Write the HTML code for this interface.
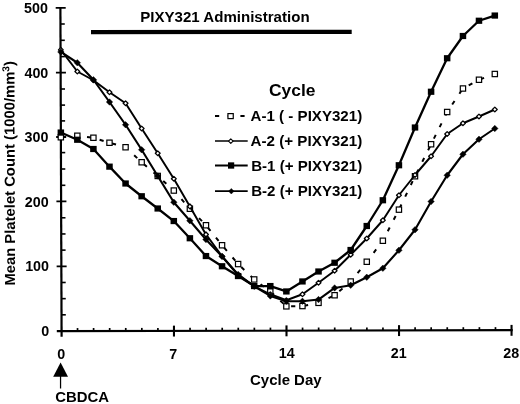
<!DOCTYPE html>
<html><head><meta charset="utf-8"><title>chart</title>
<style>
html,body{margin:0;padding:0;background:#fff;}
body{width:520px;height:404px;overflow:hidden;}
svg{display:block;filter:grayscale(1) blur(0.3px);}
text{font-family:"Liberation Sans",sans-serif;font-weight:bold;fill:#000;}
</style></head><body>
<svg width="520" height="404" viewBox="0 0 520 404">
<rect width="520" height="404" fill="#fff"/>

<g stroke="#000" fill="none">
<line x1="60.40" y1="7" x2="61.60" y2="336.7" stroke-width="2.2"/>
<line x1="56.8" y1="331.20" x2="512.7" y2="330.20" stroke-width="2.2"/>
<line x1="61.52" y1="314.82" x2="65.82" y2="314.82" stroke-width="1.6"/>
<line x1="61.46" y1="298.65" x2="65.76" y2="298.65" stroke-width="1.6"/>
<line x1="61.40" y1="282.48" x2="65.70" y2="282.48" stroke-width="1.6"/>
<line x1="56.64" y1="266.31" x2="66.64" y2="266.29" stroke-width="1.8"/>
<line x1="61.28" y1="250.12" x2="65.58" y2="250.12" stroke-width="1.6"/>
<line x1="61.23" y1="233.95" x2="65.53" y2="233.95" stroke-width="1.6"/>
<line x1="61.17" y1="217.77" x2="65.47" y2="217.77" stroke-width="1.6"/>
<line x1="56.41" y1="201.41" x2="66.41" y2="201.39" stroke-width="1.8"/>
<line x1="61.05" y1="185.30" x2="65.35" y2="185.30" stroke-width="1.6"/>
<line x1="60.99" y1="169.00" x2="65.29" y2="169.00" stroke-width="1.6"/>
<line x1="60.93" y1="152.60" x2="65.23" y2="152.60" stroke-width="1.6"/>
<line x1="56.17" y1="137.01" x2="66.17" y2="136.99" stroke-width="1.8"/>
<line x1="60.81" y1="120.90" x2="65.11" y2="120.90" stroke-width="1.6"/>
<line x1="60.76" y1="105.10" x2="65.06" y2="105.10" stroke-width="1.6"/>
<line x1="60.70" y1="89.00" x2="65.00" y2="89.00" stroke-width="1.6"/>
<line x1="55.94" y1="72.71" x2="65.94" y2="72.69" stroke-width="1.8"/>
<line x1="60.58" y1="56.60" x2="64.88" y2="56.60" stroke-width="1.6"/>
<line x1="60.52" y1="40.30" x2="64.82" y2="40.30" stroke-width="1.6"/>
<line x1="60.46" y1="24.00" x2="64.76" y2="24.00" stroke-width="1.6"/>
<line x1="55.70" y1="7.96" x2="65.70" y2="7.94" stroke-width="1.8"/>
<line x1="77.53" y1="328.05" x2="77.53" y2="331.15" stroke-width="1.7"/>
<line x1="93.60" y1="328.02" x2="93.60" y2="331.12" stroke-width="1.7"/>
<line x1="109.67" y1="327.98" x2="109.67" y2="331.08" stroke-width="1.7"/>
<line x1="125.75" y1="327.95" x2="125.75" y2="331.05" stroke-width="1.7"/>
<line x1="141.82" y1="327.91" x2="141.82" y2="331.01" stroke-width="1.7"/>
<line x1="157.90" y1="327.88" x2="157.90" y2="330.98" stroke-width="1.7"/>
<line x1="173.97" y1="325.64" x2="173.97" y2="336.54" stroke-width="2.1"/>
<line x1="190.05" y1="327.81" x2="190.05" y2="330.91" stroke-width="1.7"/>
<line x1="206.12" y1="327.77" x2="206.12" y2="330.87" stroke-width="1.7"/>
<line x1="222.20" y1="327.74" x2="222.20" y2="330.84" stroke-width="1.7"/>
<line x1="238.27" y1="327.70" x2="238.27" y2="330.80" stroke-width="1.7"/>
<line x1="254.35" y1="327.67" x2="254.35" y2="330.77" stroke-width="1.7"/>
<line x1="270.43" y1="327.63" x2="270.43" y2="330.73" stroke-width="1.7"/>
<line x1="286.50" y1="325.40" x2="286.50" y2="336.30" stroke-width="2.1"/>
<line x1="302.57" y1="327.56" x2="302.57" y2="330.66" stroke-width="1.7"/>
<line x1="318.65" y1="327.52" x2="318.65" y2="330.62" stroke-width="1.7"/>
<line x1="334.72" y1="327.49" x2="334.72" y2="330.59" stroke-width="1.7"/>
<line x1="350.80" y1="327.45" x2="350.80" y2="330.55" stroke-width="1.7"/>
<line x1="366.88" y1="327.42" x2="366.88" y2="330.52" stroke-width="1.7"/>
<line x1="382.95" y1="327.38" x2="382.95" y2="330.48" stroke-width="1.7"/>
<line x1="399.02" y1="325.15" x2="399.02" y2="336.05" stroke-width="2.1"/>
<line x1="415.10" y1="327.31" x2="415.10" y2="330.41" stroke-width="1.7"/>
<line x1="431.17" y1="327.28" x2="431.17" y2="330.38" stroke-width="1.7"/>
<line x1="447.25" y1="327.24" x2="447.25" y2="330.34" stroke-width="1.7"/>
<line x1="463.32" y1="327.21" x2="463.32" y2="330.31" stroke-width="1.7"/>
<line x1="479.40" y1="327.17" x2="479.40" y2="330.27" stroke-width="1.7"/>
<line x1="495.47" y1="327.14" x2="495.47" y2="330.24" stroke-width="1.7"/>
<line x1="511.55" y1="324.90" x2="511.55" y2="335.80" stroke-width="2.1"/>
</g>
<text x="47.90" y="12.90" font-size="14.3" text-anchor="end">500</text>
<text x="48.30" y="77.90" font-size="14.3" text-anchor="end">400</text>
<text x="48.40" y="141.80" font-size="14.3" text-anchor="end">300</text>
<text x="48.70" y="206.60" font-size="14.3" text-anchor="end">200</text>
<text x="49.00" y="270.80" font-size="14.3" text-anchor="end">100</text>
<text x="49.30" y="336.30" font-size="14.3" text-anchor="end">0</text>
<text x="61.30" y="358.80" font-size="14.3" text-anchor="middle">0</text>
<text x="173.30" y="358.60" font-size="14.3" text-anchor="middle">7</text>
<text x="286.70" y="358.30" font-size="14.3" text-anchor="middle">14</text>
<text x="398.80" y="357.90" font-size="14.3" text-anchor="middle">21</text>
<text x="511.30" y="357.70" font-size="14.3" text-anchor="middle">28</text>
<text x="250.0" y="385.1" font-size="14.3" textLength="71.6" lengthAdjust="spacingAndGlyphs">Cycle Day</text>
<text transform="translate(15.1,285.6) rotate(-90.2)" font-size="14.5" textLength="224.6" lengthAdjust="spacingAndGlyphs">Mean Platelet Count (1000/mm<tspan font-size="10" dy="-5.2">3</tspan><tspan dy="5.2">)</tspan></text>
<text x="140.3" y="21.7" font-size="14" textLength="169.3" lengthAdjust="spacingAndGlyphs">PIXY321 Administration</text>
<path d="M91,30.0 L351.7,29.7 L351.7,33.9 L91,34.2 Z" fill="#000"/>
<path d="M60.6,362.4 L68.0,376.8 L53.2,376.8 Z" fill="#000"/>
<line x1="60.55" y1="376" x2="60.55" y2="388.5" stroke="#000" stroke-width="1.25"/>
<text x="55.2" y="401.6" font-size="14" textLength="53.8" lengthAdjust="spacingAndGlyphs">CBDCA</text>
<text x="269.0" y="95.6" font-size="16.9" textLength="46.4" lengthAdjust="spacingAndGlyphs">Cycle</text>
<text x="250.6" y="121.30" font-size="14" textLength="111.6" lengthAdjust="spacingAndGlyphs">A-1 ( - PIXY321)</text>
<text x="250.6" y="146.40" font-size="14" textLength="111.6" lengthAdjust="spacingAndGlyphs">A-2 (+ PIXY321)</text>
<text x="251.2" y="170.60" font-size="14" textLength="111.0" lengthAdjust="spacingAndGlyphs">B-1 (+ PIXY321)</text>
<text x="251.2" y="196.40" font-size="14" textLength="111.0" lengthAdjust="spacingAndGlyphs">B-2 (+ PIXY321)</text>
<line x1="215" y1="116.0" x2="247.7" y2="116.0" stroke="#000" stroke-width="2.1" stroke-dasharray="4.2 8.5"/>
<rect x="227.95" y="113.60" width="5.3" height="5.0" fill="#fff" stroke="#000" stroke-width="1.2"/>
<line x1="215" y1="141.1" x2="247.7" y2="141.1" stroke="#000" stroke-width="1.5"/>
<path d="M228.50,141.10 L230.80,138.80 L233.10,141.10 L230.80,143.40 Z" fill="#fff" stroke="#000" stroke-width="1.1" stroke-linejoin="round"/>
<line x1="215" y1="165.5" x2="247.7" y2="165.5" stroke="#000" stroke-width="2.1"/>
<rect x="228.00" y="162.35" width="6.2" height="6.3" fill="#000"/>
<line x1="215" y1="191.2" x2="247.7" y2="191.2" stroke="#000" stroke-width="1.8"/>
<path d="M228.50,191.20 L231.30,188.40 L234.10,191.20 L231.30,194.00 Z" fill="#000" stroke="#000" stroke-width="0.4" stroke-linejoin="round"/>
<polyline points="60.85,137.25 77.33,135.75 93.41,137.75 109.49,142.75 125.57,147.25 141.65,162.25 157.73,175.95 173.81,190.55 189.89,208.75 205.97,225.25 222.05,245.25 238.13,264.05 254.21,279.45 270.29,291.45 286.37,306.35 302.45,306.05 318.53,302.85 334.61,295.25 350.69,281.50 366.77,261.75 382.85,240.75 398.93,209.65 415.01,176.25 431.09,144.25 447.17,112.00 462.95,88.50 478.98,79.75 494.81,74.00" fill="none" stroke="#000" stroke-width="2" stroke-dasharray="4.2 8.73" stroke-dashoffset="-0.45"/>
<rect x="58.20" y="134.60" width="5.3" height="5.3" fill="#fff" stroke="#000" stroke-width="1.2"/>
<rect x="74.68" y="133.10" width="5.3" height="5.3" fill="#fff" stroke="#000" stroke-width="1.2"/>
<rect x="90.76" y="135.10" width="5.3" height="5.3" fill="#fff" stroke="#000" stroke-width="1.2"/>
<rect x="106.84" y="140.10" width="5.3" height="5.3" fill="#fff" stroke="#000" stroke-width="1.2"/>
<rect x="122.92" y="144.60" width="5.3" height="5.3" fill="#fff" stroke="#000" stroke-width="1.2"/>
<rect x="139.00" y="159.60" width="5.3" height="5.3" fill="#fff" stroke="#000" stroke-width="1.2"/>
<rect x="155.08" y="173.30" width="5.3" height="5.3" fill="#fff" stroke="#000" stroke-width="1.2"/>
<rect x="171.16" y="187.90" width="5.3" height="5.3" fill="#fff" stroke="#000" stroke-width="1.2"/>
<rect x="187.24" y="206.10" width="5.3" height="5.3" fill="#fff" stroke="#000" stroke-width="1.2"/>
<rect x="203.32" y="222.60" width="5.3" height="5.3" fill="#fff" stroke="#000" stroke-width="1.2"/>
<rect x="219.40" y="242.60" width="5.3" height="5.3" fill="#fff" stroke="#000" stroke-width="1.2"/>
<rect x="235.48" y="261.40" width="5.3" height="5.3" fill="#fff" stroke="#000" stroke-width="1.2"/>
<rect x="251.56" y="276.80" width="5.3" height="5.3" fill="#fff" stroke="#000" stroke-width="1.2"/>
<rect x="267.64" y="288.80" width="5.3" height="5.3" fill="#fff" stroke="#000" stroke-width="1.2"/>
<rect x="283.72" y="303.70" width="5.3" height="5.3" fill="#fff" stroke="#000" stroke-width="1.2"/>
<rect x="299.80" y="303.40" width="5.3" height="5.3" fill="#fff" stroke="#000" stroke-width="1.2"/>
<rect x="315.88" y="300.20" width="5.3" height="5.3" fill="#fff" stroke="#000" stroke-width="1.2"/>
<rect x="331.96" y="292.60" width="5.3" height="5.3" fill="#fff" stroke="#000" stroke-width="1.2"/>
<rect x="348.04" y="278.85" width="5.3" height="5.3" fill="#fff" stroke="#000" stroke-width="1.2"/>
<rect x="364.12" y="259.10" width="5.3" height="5.3" fill="#fff" stroke="#000" stroke-width="1.2"/>
<rect x="380.20" y="238.10" width="5.3" height="5.3" fill="#fff" stroke="#000" stroke-width="1.2"/>
<rect x="396.28" y="207.00" width="5.3" height="5.3" fill="#fff" stroke="#000" stroke-width="1.2"/>
<rect x="412.36" y="173.60" width="5.3" height="5.3" fill="#fff" stroke="#000" stroke-width="1.2"/>
<rect x="428.44" y="141.60" width="5.3" height="5.3" fill="#fff" stroke="#000" stroke-width="1.2"/>
<rect x="444.52" y="109.35" width="5.3" height="5.3" fill="#fff" stroke="#000" stroke-width="1.2"/>
<rect x="460.30" y="85.85" width="5.3" height="5.3" fill="#fff" stroke="#000" stroke-width="1.2"/>
<rect x="476.33" y="77.10" width="5.3" height="5.3" fill="#fff" stroke="#000" stroke-width="1.2"/>
<rect x="492.16" y="71.35" width="5.3" height="5.3" fill="#fff" stroke="#000" stroke-width="1.2"/>
<polyline points="60.85,49.85 77.33,71.50 93.41,80.25 109.49,92.25 125.57,103.25 141.65,128.50 157.73,153.25 173.81,178.75 189.89,206.45 205.97,234.45 222.05,256.25 238.13,275.25 254.21,286.25 270.29,294.25 286.37,300.25 302.45,294.25 318.53,282.75 334.61,270.75 350.69,254.75 366.77,238.50 382.85,220.25 398.93,195.25 415.01,175.00 431.09,156.25 447.17,134.00 462.95,123.25 478.98,116.50 494.81,109.50" fill="none" stroke="#000" stroke-width="1.95" stroke-linejoin="round"/>
<path d="M58.45,49.85 L60.85,47.45 L63.25,49.85 L60.85,52.25 Z" fill="#fff" stroke="#000" stroke-width="1.3" stroke-linejoin="round"/>
<path d="M74.93,71.50 L77.33,69.10 L79.73,71.50 L77.33,73.90 Z" fill="#fff" stroke="#000" stroke-width="1.3" stroke-linejoin="round"/>
<path d="M91.01,80.25 L93.41,77.85 L95.81,80.25 L93.41,82.65 Z" fill="#fff" stroke="#000" stroke-width="1.3" stroke-linejoin="round"/>
<path d="M107.09,92.25 L109.49,89.85 L111.89,92.25 L109.49,94.65 Z" fill="#fff" stroke="#000" stroke-width="1.3" stroke-linejoin="round"/>
<path d="M123.17,103.25 L125.57,100.85 L127.97,103.25 L125.57,105.65 Z" fill="#fff" stroke="#000" stroke-width="1.3" stroke-linejoin="round"/>
<path d="M139.25,128.50 L141.65,126.10 L144.05,128.50 L141.65,130.90 Z" fill="#fff" stroke="#000" stroke-width="1.3" stroke-linejoin="round"/>
<path d="M155.33,153.25 L157.73,150.85 L160.13,153.25 L157.73,155.65 Z" fill="#fff" stroke="#000" stroke-width="1.3" stroke-linejoin="round"/>
<path d="M171.41,178.75 L173.81,176.35 L176.21,178.75 L173.81,181.15 Z" fill="#fff" stroke="#000" stroke-width="1.3" stroke-linejoin="round"/>
<path d="M187.49,206.45 L189.89,204.05 L192.29,206.45 L189.89,208.85 Z" fill="#fff" stroke="#000" stroke-width="1.3" stroke-linejoin="round"/>
<path d="M203.57,234.45 L205.97,232.05 L208.37,234.45 L205.97,236.85 Z" fill="#fff" stroke="#000" stroke-width="1.3" stroke-linejoin="round"/>
<path d="M219.65,256.25 L222.05,253.85 L224.45,256.25 L222.05,258.65 Z" fill="#fff" stroke="#000" stroke-width="1.3" stroke-linejoin="round"/>
<path d="M235.73,275.25 L238.13,272.85 L240.53,275.25 L238.13,277.65 Z" fill="#fff" stroke="#000" stroke-width="1.3" stroke-linejoin="round"/>
<path d="M251.81,286.25 L254.21,283.85 L256.61,286.25 L254.21,288.65 Z" fill="#fff" stroke="#000" stroke-width="1.3" stroke-linejoin="round"/>
<path d="M267.89,294.25 L270.29,291.85 L272.69,294.25 L270.29,296.65 Z" fill="#fff" stroke="#000" stroke-width="1.3" stroke-linejoin="round"/>
<path d="M283.97,300.25 L286.37,297.85 L288.77,300.25 L286.37,302.65 Z" fill="#fff" stroke="#000" stroke-width="1.3" stroke-linejoin="round"/>
<path d="M300.05,294.25 L302.45,291.85 L304.85,294.25 L302.45,296.65 Z" fill="#fff" stroke="#000" stroke-width="1.3" stroke-linejoin="round"/>
<path d="M316.13,282.75 L318.53,280.35 L320.93,282.75 L318.53,285.15 Z" fill="#fff" stroke="#000" stroke-width="1.3" stroke-linejoin="round"/>
<path d="M332.21,270.75 L334.61,268.35 L337.01,270.75 L334.61,273.15 Z" fill="#fff" stroke="#000" stroke-width="1.3" stroke-linejoin="round"/>
<path d="M348.29,254.75 L350.69,252.35 L353.09,254.75 L350.69,257.15 Z" fill="#fff" stroke="#000" stroke-width="1.3" stroke-linejoin="round"/>
<path d="M364.37,238.50 L366.77,236.10 L369.17,238.50 L366.77,240.90 Z" fill="#fff" stroke="#000" stroke-width="1.3" stroke-linejoin="round"/>
<path d="M380.45,220.25 L382.85,217.85 L385.25,220.25 L382.85,222.65 Z" fill="#fff" stroke="#000" stroke-width="1.3" stroke-linejoin="round"/>
<path d="M396.53,195.25 L398.93,192.85 L401.33,195.25 L398.93,197.65 Z" fill="#fff" stroke="#000" stroke-width="1.3" stroke-linejoin="round"/>
<path d="M412.61,175.00 L415.01,172.60 L417.41,175.00 L415.01,177.40 Z" fill="#fff" stroke="#000" stroke-width="1.3" stroke-linejoin="round"/>
<path d="M428.69,156.25 L431.09,153.85 L433.49,156.25 L431.09,158.65 Z" fill="#fff" stroke="#000" stroke-width="1.3" stroke-linejoin="round"/>
<path d="M444.77,134.00 L447.17,131.60 L449.57,134.00 L447.17,136.40 Z" fill="#fff" stroke="#000" stroke-width="1.3" stroke-linejoin="round"/>
<path d="M460.55,123.25 L462.95,120.85 L465.35,123.25 L462.95,125.65 Z" fill="#fff" stroke="#000" stroke-width="1.3" stroke-linejoin="round"/>
<path d="M476.58,116.50 L478.98,114.10 L481.38,116.50 L478.98,118.90 Z" fill="#fff" stroke="#000" stroke-width="1.3" stroke-linejoin="round"/>
<path d="M492.41,109.50 L494.81,107.10 L497.21,109.50 L494.81,111.90 Z" fill="#fff" stroke="#000" stroke-width="1.3" stroke-linejoin="round"/>
<polyline points="60.85,132.55 77.33,139.75 93.41,149.00 109.49,166.65 125.57,183.50 141.65,196.25 157.73,208.50 173.81,221.05 189.89,238.25 205.97,256.05 222.05,266.25 238.13,276.05 254.21,286.05 270.29,286.05 286.37,291.45 302.45,281.45 318.53,271.50 334.61,262.75 350.69,250.00 366.77,226.00 382.85,200.25 398.93,165.25 415.01,127.50 431.09,91.75 447.17,58.25 462.95,36.00 478.98,20.75 494.81,15.55" fill="none" stroke="#000" stroke-width="2.3" stroke-linejoin="round"/>
<rect x="57.60" y="129.45" width="6.5" height="6.2" fill="#000"/>
<rect x="74.08" y="136.65" width="6.5" height="6.2" fill="#000"/>
<rect x="90.16" y="145.90" width="6.5" height="6.2" fill="#000"/>
<rect x="106.24" y="163.55" width="6.5" height="6.2" fill="#000"/>
<rect x="122.32" y="180.40" width="6.5" height="6.2" fill="#000"/>
<rect x="138.40" y="193.15" width="6.5" height="6.2" fill="#000"/>
<rect x="154.48" y="205.40" width="6.5" height="6.2" fill="#000"/>
<rect x="170.56" y="217.95" width="6.5" height="6.2" fill="#000"/>
<rect x="186.64" y="235.15" width="6.5" height="6.2" fill="#000"/>
<rect x="202.72" y="252.95" width="6.5" height="6.2" fill="#000"/>
<rect x="218.80" y="263.15" width="6.5" height="6.2" fill="#000"/>
<rect x="234.88" y="272.95" width="6.5" height="6.2" fill="#000"/>
<rect x="250.96" y="282.95" width="6.5" height="6.2" fill="#000"/>
<rect x="267.04" y="282.95" width="6.5" height="6.2" fill="#000"/>
<rect x="283.12" y="288.35" width="6.5" height="6.2" fill="#000"/>
<rect x="299.20" y="278.35" width="6.5" height="6.2" fill="#000"/>
<rect x="315.28" y="268.40" width="6.5" height="6.2" fill="#000"/>
<rect x="331.36" y="259.65" width="6.5" height="6.2" fill="#000"/>
<rect x="347.44" y="246.90" width="6.5" height="6.2" fill="#000"/>
<rect x="363.52" y="222.90" width="6.5" height="6.2" fill="#000"/>
<rect x="379.60" y="197.15" width="6.5" height="6.2" fill="#000"/>
<rect x="395.68" y="162.15" width="6.5" height="6.2" fill="#000"/>
<rect x="411.76" y="124.40" width="6.5" height="6.2" fill="#000"/>
<rect x="427.84" y="88.65" width="6.5" height="6.2" fill="#000"/>
<rect x="443.92" y="55.15" width="6.5" height="6.2" fill="#000"/>
<rect x="459.70" y="32.90" width="6.5" height="6.2" fill="#000"/>
<rect x="475.73" y="17.65" width="6.5" height="6.2" fill="#000"/>
<rect x="491.56" y="12.45" width="6.5" height="6.2" fill="#000"/>
<polyline points="60.85,51.95 77.33,62.75 93.41,79.75 109.49,102.00 125.57,124.75 141.65,149.75 157.73,175.95 173.81,202.25 189.89,220.75 205.97,239.55 222.05,256.45 238.13,274.45 254.21,286.25 270.29,295.95 286.37,301.25 302.45,301.25 318.53,299.55 334.61,287.95 350.69,285.25 366.77,277.25 382.85,268.25 398.93,250.25 415.01,229.75 431.09,201.50 447.17,175.25 462.95,154.25 478.98,139.25 494.81,128.50" fill="none" stroke="#000" stroke-width="2.1" stroke-linejoin="round"/>
<path d="M57.60,51.95 L60.85,48.70 L64.10,51.95 L60.85,55.20 Z" fill="#000" stroke="#000" stroke-width="0.4" stroke-linejoin="round"/>
<path d="M74.08,62.75 L77.33,59.50 L80.58,62.75 L77.33,66.00 Z" fill="#000" stroke="#000" stroke-width="0.4" stroke-linejoin="round"/>
<path d="M90.16,79.75 L93.41,76.50 L96.66,79.75 L93.41,83.00 Z" fill="#000" stroke="#000" stroke-width="0.4" stroke-linejoin="round"/>
<path d="M106.24,102.00 L109.49,98.75 L112.74,102.00 L109.49,105.25 Z" fill="#000" stroke="#000" stroke-width="0.4" stroke-linejoin="round"/>
<path d="M122.32,124.75 L125.57,121.50 L128.82,124.75 L125.57,128.00 Z" fill="#000" stroke="#000" stroke-width="0.4" stroke-linejoin="round"/>
<path d="M138.40,149.75 L141.65,146.50 L144.90,149.75 L141.65,153.00 Z" fill="#000" stroke="#000" stroke-width="0.4" stroke-linejoin="round"/>
<path d="M154.48,175.95 L157.73,172.70 L160.98,175.95 L157.73,179.20 Z" fill="#000" stroke="#000" stroke-width="0.4" stroke-linejoin="round"/>
<path d="M170.56,202.25 L173.81,199.00 L177.06,202.25 L173.81,205.50 Z" fill="#000" stroke="#000" stroke-width="0.4" stroke-linejoin="round"/>
<path d="M186.64,220.75 L189.89,217.50 L193.14,220.75 L189.89,224.00 Z" fill="#000" stroke="#000" stroke-width="0.4" stroke-linejoin="round"/>
<path d="M202.72,239.55 L205.97,236.30 L209.22,239.55 L205.97,242.80 Z" fill="#000" stroke="#000" stroke-width="0.4" stroke-linejoin="round"/>
<path d="M218.80,256.45 L222.05,253.20 L225.30,256.45 L222.05,259.70 Z" fill="#000" stroke="#000" stroke-width="0.4" stroke-linejoin="round"/>
<path d="M234.88,274.45 L238.13,271.20 L241.38,274.45 L238.13,277.70 Z" fill="#000" stroke="#000" stroke-width="0.4" stroke-linejoin="round"/>
<path d="M250.96,286.25 L254.21,283.00 L257.46,286.25 L254.21,289.50 Z" fill="#000" stroke="#000" stroke-width="0.4" stroke-linejoin="round"/>
<path d="M267.04,295.95 L270.29,292.70 L273.54,295.95 L270.29,299.20 Z" fill="#000" stroke="#000" stroke-width="0.4" stroke-linejoin="round"/>
<path d="M283.12,301.25 L286.37,298.00 L289.62,301.25 L286.37,304.50 Z" fill="#000" stroke="#000" stroke-width="0.4" stroke-linejoin="round"/>
<path d="M299.20,301.25 L302.45,298.00 L305.70,301.25 L302.45,304.50 Z" fill="#000" stroke="#000" stroke-width="0.4" stroke-linejoin="round"/>
<path d="M315.28,299.55 L318.53,296.30 L321.78,299.55 L318.53,302.80 Z" fill="#000" stroke="#000" stroke-width="0.4" stroke-linejoin="round"/>
<path d="M331.36,287.95 L334.61,284.70 L337.86,287.95 L334.61,291.20 Z" fill="#000" stroke="#000" stroke-width="0.4" stroke-linejoin="round"/>
<path d="M347.44,285.25 L350.69,282.00 L353.94,285.25 L350.69,288.50 Z" fill="#000" stroke="#000" stroke-width="0.4" stroke-linejoin="round"/>
<path d="M363.52,277.25 L366.77,274.00 L370.02,277.25 L366.77,280.50 Z" fill="#000" stroke="#000" stroke-width="0.4" stroke-linejoin="round"/>
<path d="M379.60,268.25 L382.85,265.00 L386.10,268.25 L382.85,271.50 Z" fill="#000" stroke="#000" stroke-width="0.4" stroke-linejoin="round"/>
<path d="M395.68,250.25 L398.93,247.00 L402.18,250.25 L398.93,253.50 Z" fill="#000" stroke="#000" stroke-width="0.4" stroke-linejoin="round"/>
<path d="M411.76,229.75 L415.01,226.50 L418.26,229.75 L415.01,233.00 Z" fill="#000" stroke="#000" stroke-width="0.4" stroke-linejoin="round"/>
<path d="M427.84,201.50 L431.09,198.25 L434.34,201.50 L431.09,204.75 Z" fill="#000" stroke="#000" stroke-width="0.4" stroke-linejoin="round"/>
<path d="M443.92,175.25 L447.17,172.00 L450.42,175.25 L447.17,178.50 Z" fill="#000" stroke="#000" stroke-width="0.4" stroke-linejoin="round"/>
<path d="M459.70,154.25 L462.95,151.00 L466.20,154.25 L462.95,157.50 Z" fill="#000" stroke="#000" stroke-width="0.4" stroke-linejoin="round"/>
<path d="M475.73,139.25 L478.98,136.00 L482.23,139.25 L478.98,142.50 Z" fill="#000" stroke="#000" stroke-width="0.4" stroke-linejoin="round"/>
<path d="M491.56,128.50 L494.81,125.25 L498.06,128.50 L494.81,131.75 Z" fill="#000" stroke="#000" stroke-width="0.4" stroke-linejoin="round"/>
</svg></body></html>
